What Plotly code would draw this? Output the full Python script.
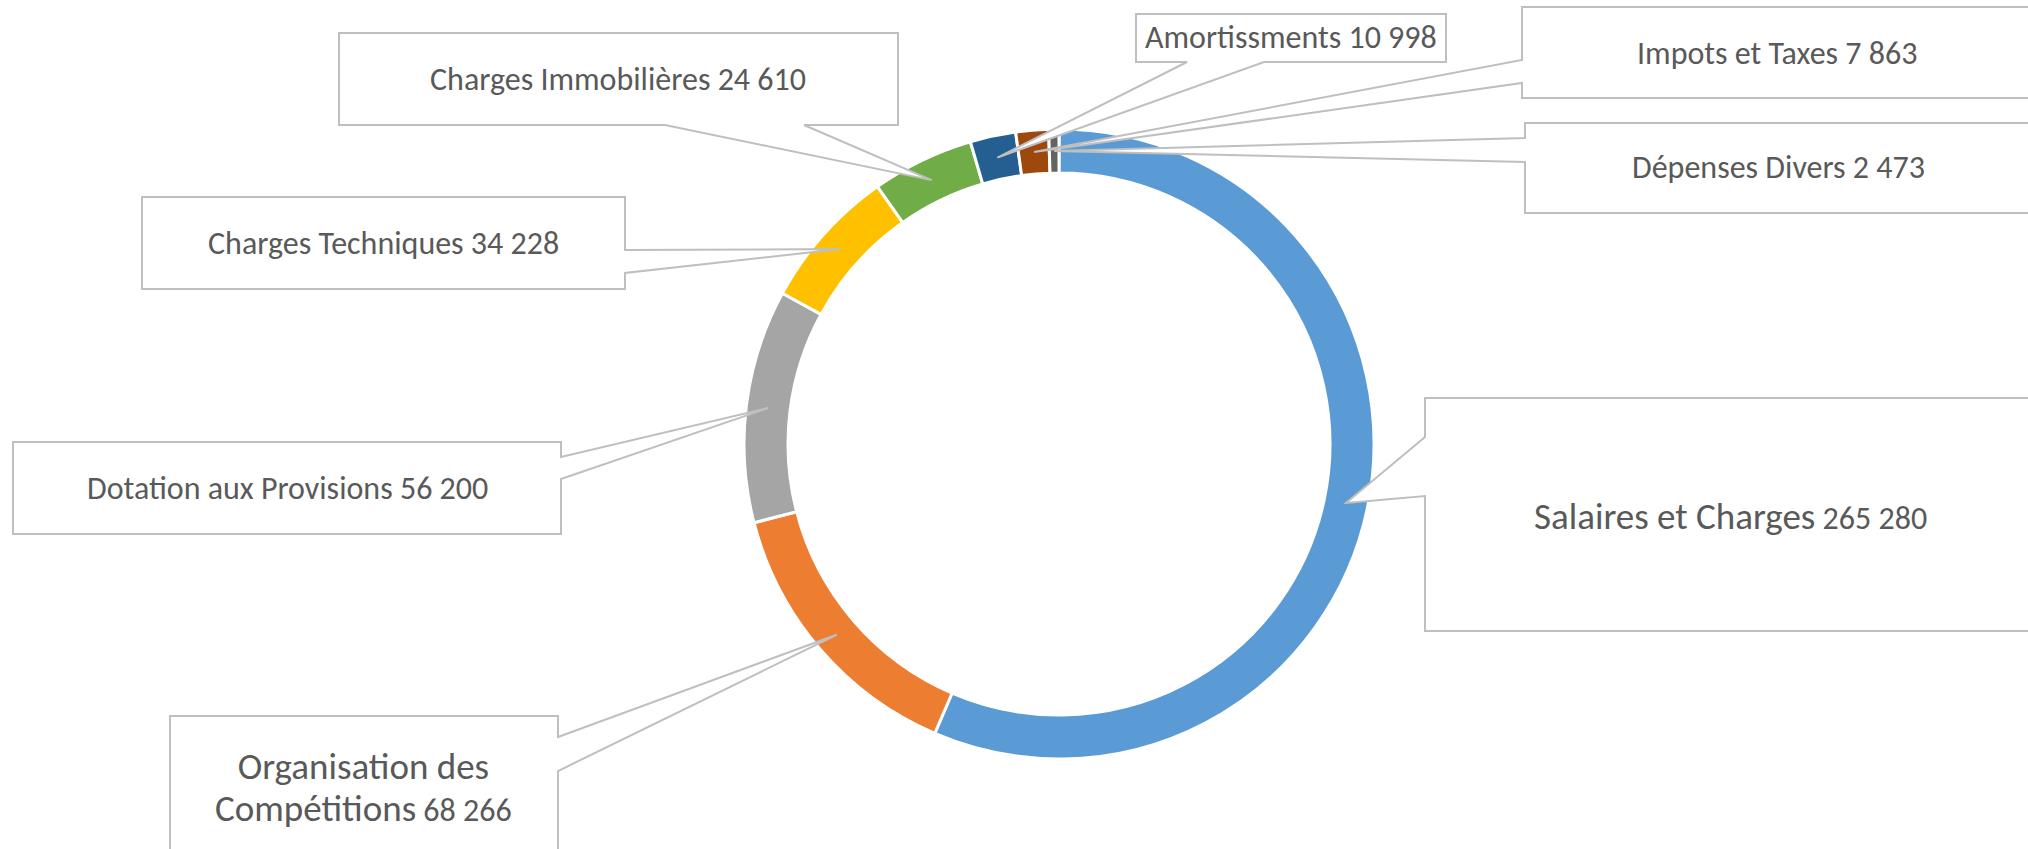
import math
import plotly.graph_objects as go

# ---------------- data ----------------
categories = [
    "Salaires et Charges",
    "Organisation des Compétitions",
    "Dotation aux Provisions",
    "Charges Techniques",
    "Charges Immobilières",
    "Amortissments",
    "Impots et Taxes",
    "Dépenses Divers",
]
values = [265280, 68266, 56200, 34228, 24610, 10998, 7863, 2473]
colors = ["#5B9BD5", "#ED7D31", "#A5A5A5", "#FFC000", "#70AD47", "#255E91", "#9E480E", "#636363"]

# ---------------- geometry / layout (pixels in the screenshot) ----------------
OFF = 0  # page body margin removed via post_script
W, H = 2028, 849
CX, CY, R_OUT, R_IN = 1059, 444, 315, 271
R_MID = (314 + 272) / 2
FONT = "Carlito, Calibri, Lato, sans-serif"
TXT = "#595959"
BORDER = "#BFBFBF"

# callout boxes: (x0, y0, x1, y1, side, a, b, text_cx, text_cy, big_name, display_name)
callouts = {
    "Salaires et Charges": (1425, 398, 2045, 631, "left", 437, 496, 1730, 516, True, "Salaires et Charges"),
    "Organisation des Compétitions": (170, 716, 558, 868, "right", 737, 771, 363, 787, True, "Organisation des<br>Compétitions"),
    "Dotation aux Provisions": (13, 442, 561, 534, "right", 457, 479, 287, 488, False, "Dotation aux Provisions"),
    "Charges Techniques": (142, 197, 625, 289, "right", 250, 273, 383, 243, False, "Charges Techniques"),
    "Charges Immobilières": (339, 33, 898, 125, "bottom", 665, 804, 618, 79, False, "Charges Immobilières"),
    "Amortissments": (1136, 14, 1446, 62, "bottom", 1187, 1264, 1291, 38, False, "Amortissments"),
    "Impots et Taxes": (1522, 7, 2045, 98, "left", 60, 83, 1777, 53, False, "Impots et Taxes"),
    "Dépenses Divers": (1525, 123, 2045, 213, "left", 138, 162, 1778, 168, False, "Dépenses Divers"),
}


def px(x):
    return (x - OFF) / W


def py(y):
    return 1 - (y - OFF) / H


def callout_path(x0, y0, x1, y1, side, a, b, tip):
    pts = [(x0, y0)]
    if side == "top":
        pts += [(a, y0), tip, (b, y0)]
    pts.append((x1, y0))
    if side == "right":
        pts += [(x1, a), tip, (x1, b)]
    pts.append((x1, y1))
    if side == "bottom":
        pts += [(b, y1), tip, (a, y1)]
    pts.append((x0, y1))
    if side == "left":
        pts += [(x0, b), tip, (x0, a)]
    s = "M " + " L ".join(f"{px(x):.6f},{py(y):.6f}" for x, y in pts) + " Z"
    return s


fig = go.Figure(
    go.Pie(
        labels=categories,
        values=values,
        sort=False,
        direction="clockwise",
        rotation=0,
        hole=R_IN / R_OUT,
        marker=dict(colors=colors, line=dict(color="white", width=3)),
        textinfo="none",
        showlegend=False,
        domain=dict(x=[px(CX - R_OUT), px(CX + R_OUT)], y=[py(CY + R_OUT), py(CY - R_OUT)]),
    )
)

total = sum(values)
cum = 0
shapes = []
annotations = []
for name, v in zip(categories, values):
    mid = (cum + v / 2) / total
    cum += v
    ang = 2 * math.pi * mid
    tip = (CX + R_MID * math.sin(ang), CY - R_MID * math.cos(ang))
    x0, y0, x1, y1, side, a, b, tcx, tcy, big, disp = callouts[name]
    shapes.append(
        dict(
            type="path",
            xref="paper",
            yref="paper",
            path=callout_path(x0, y0, x1, y1, side, a, b, tip),
            fillcolor="white",
            line=dict(color=BORDER, width=2),
            layer="above",
        )
    )
    val = f"{v:,}".replace(",", " ")
    if big:
        text = f"<span style='font-size:37px'>{disp}</span> {val}"
    else:
        text = f"{disp} {val}"
    annotations.append(
        dict(
            x=px(tcx),
            y=py(tcy),
            xref="paper",
            yref="paper",
            text=text,
            showarrow=False,
            xanchor="center",
            yanchor="middle",
            align="center",
            font=dict(family=FONT, size=32, color=TXT),
        )
    )

fig.update_layout(
    width=W,
    height=H,
    margin=dict(l=0, r=0, t=0, b=0),
    paper_bgcolor="white",
    plot_bgcolor="white",
    shapes=shapes,
    annotations=annotations,
)

fig.write_html(
    "out.html",
    config={"displayModeBar": False},
    post_script="document.body.style.margin='0';document.body.style.overflow='hidden';",
)
